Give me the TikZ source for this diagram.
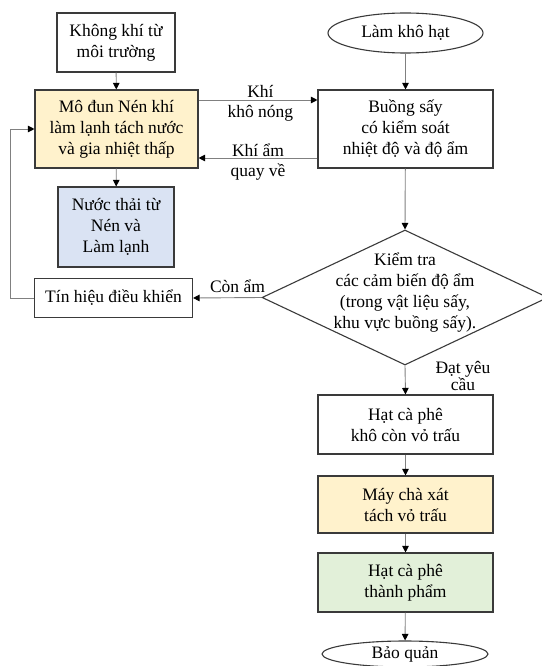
\documentclass[tikz,border=0pt]{standalone}
\usepackage{fontspec}
\setmainfont{Liberation Serif}
\usetikzlibrary{shapes.geometric,arrows.meta}
\definecolor{boxline}{HTML}{3A3A3A}
\definecolor{conn}{HTML}{808080}
\definecolor{yel}{HTML}{FFF2CC}
\definecolor{blu}{HTML}{DAE3F3}
\definecolor{grn}{HTML}{E2F0D9}
\tikzset{
  box/.style={draw=boxline, line width=1.1pt, rectangle, inner sep=0pt, align=center,
    font=\fontsize{17.5}{21}\selectfont},
  oval/.style={draw=boxline, line width=1.1pt, ellipse, inner sep=0pt, align=center,
    font=\fontsize{17.5}{21}\selectfont},
  lbl/.style={inner sep=0pt, align=center, font=\fontsize{17.5}{21}\selectfont},
  conn/.style={draw=conn, line width=0.9pt, -{Triangle[width=6.5pt,length=6.5pt,color=black]}}
}
\begin{document}
\begin{tikzpicture}[x=1pt,y=-1pt]
\useasboundingbox (0,0) rectangle (541,666);
% nodes
\node[box, minimum width=118pt, minimum height=59pt] (air) at (116,42.5) {Không khí từ\\môi trường};
\node[box, fill=yel, minimum width=163pt, minimum height=78pt] (mod) at (116.5,129) {Mô đun Nén khí\\làm lạnh tách nước\\và gia nhiệt thấp};
\node[box, fill=blu, minimum width=116pt, minimum height=80pt] (water) at (116,227) {Nước thải từ\\Nén và\\Làm lạnh};
\node[box, minimum width=158pt, minimum height=39pt] (sig) at (113.5,298) {Tín hiệu điều khiển};
\node[oval, minimum width=155pt, minimum height=40pt] (dry) at (405.5,33) {Làm khô hạt};
\node[box, minimum width=175pt, minimum height=78pt] (chamber) at (405.5,129) {Buồng sấy\\có kiểm soát\\nhiệt độ và độ ẩm};
\node[box, diamond, minimum width=286pt, minimum height=135pt] (dia) at (405,297.5) {};
\node[lbl] (diatext) at (405,293) {Kiểm tra\\các cảm biến độ ẩm\\(trong vật liệu sấy,\\khu vực buồng sấy).};
\node[box, minimum width=175pt, minimum height=59pt] (dried) at (405.5,424.5) {Hạt cà phê\\khô còn vỏ trấu};
\node[box, fill=yel, minimum width=175pt, minimum height=57pt] (huller) at (405.5,504.5) {Máy chà xát\\tách vỏ trấu};
\node[box, fill=grn, minimum width=175pt, minimum height=59pt] (final) at (405.5,582.5) {Hạt cà phê\\thành phẩm};
\node[oval, minimum width=166pt, minimum height=26pt] (store) at (405,654) {Bảo quản};
% connectors
\draw[conn] (air) -- (mod);
\draw[conn] (mod) -- (water);
\draw[conn] (dry) -- (chamber);
\draw[conn] ([yshift=29pt]mod.east) -- node[lbl, pos=0.52, yshift=-3pt]{Khí\\[-1pt]khô nóng} ([yshift=29pt]chamber.west);
\draw[conn] ([yshift=-29pt]chamber.west) -- node[lbl, pos=0.5, yshift=-4pt]{Khí ẩm\\[-1pt]quay về} ([yshift=-29pt]mod.east);
\draw[conn] (chamber) -- (dia.north);
\draw[conn] (dia.west) -- node[lbl, pos=0.35, above=5pt]{Còn ẩm} (sig.east);
\draw[conn] (sig.west) -- ++(-24,0) |- (mod.west);
\draw[conn] (dia.south) -- (dried.north);
\node[lbl] (ok) at (463,376) {Đạt yêu\\[-4pt]cầu};
\draw[conn] (dried) -- (huller);
\draw[conn] (huller) -- (final);
\draw[conn] (final) -- (store);
\end{tikzpicture}
\end{document}
